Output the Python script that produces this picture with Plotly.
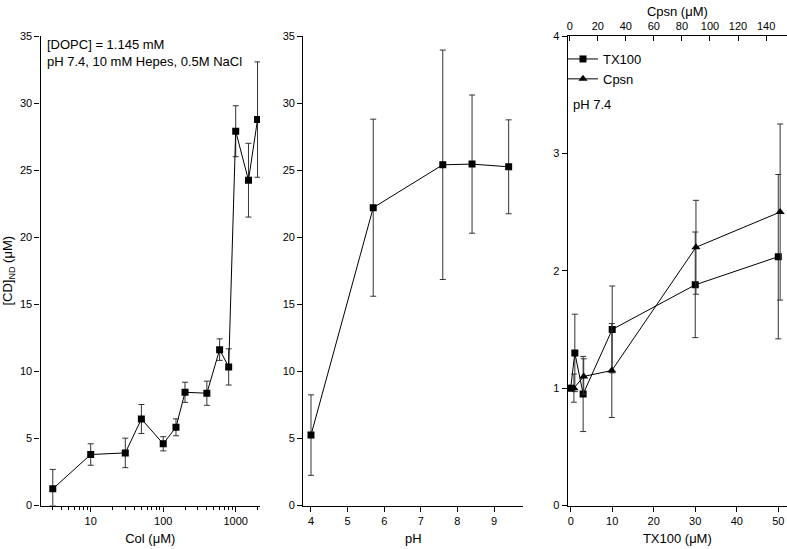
import plotly.graph_objects as go

# ---------------- data ----------------
col_conc = [3, 10, 30, 50, 100, 150, 200, 400, 600, 800, 1000, 1500, 2000]
col_cd = [1.24, 3.8, 3.92, 6.45, 4.6, 5.83, 8.44, 8.37, 11.62, 10.33, 27.9, 24.25, 28.77]
col_err = [1.45, 0.8, 1.1, 1.08, 0.53, 0.63, 0.75, 0.9, 0.8, 1.35, 1.9, 2.75, 4.3]

ph_vals = [4.0, 5.7, 7.6, 8.4, 9.4]
ph_cd = [5.25, 22.2, 25.4, 25.45, 25.25]
ph_err = [3.0, 6.6, 8.55, 5.15, 3.5]

tx_conc = [0, 1, 3, 10, 30, 50]
tx_rel = [1.0, 1.3, 0.95, 1.5, 1.88, 2.12]
tx_err = [0.0, 0.33, 0.32, 0.37, 0.45, 0.70]

cpsn_conc = [0, 3, 10, 30, 90, 150]
cpsn_rel = [1.0, 1.0, 1.1, 1.15, 2.2, 2.5]
cpsn_err = [0.0, 0.12, 0.15, 0.4, 0.4, 0.75]

FONT = "Liberation Sans, Arial, sans-serif"
W, H = 787, 549

def px_x(p):
    return p / W

def px_y(p):
    return 1 - p / H

ydom = [px_y(505.5), px_y(36)]
ebar = dict(type="data", thickness=1, width=3, color="#333333")
lmk = dict(color="black", width=1)

fig = go.Figure()

col_minus = [min(e, v) for e, v in zip(col_err, col_cd)]
fig.add_trace(go.Scatter(
    x=col_conc, y=col_cd, mode="lines+markers",
    line=lmk, marker=dict(symbol="square", size=7, color="black"),
    error_y=dict(array=col_err, arrayminus=col_minus, **ebar),
    xaxis="x", yaxis="y", showlegend=False))

fig.add_trace(go.Scatter(
    x=ph_vals, y=ph_cd, mode="lines+markers",
    line=lmk, marker=dict(symbol="square", size=7, color="black"),
    error_y=dict(array=ph_err, **ebar),
    xaxis="x2", yaxis="y2", showlegend=False))

fig.add_trace(go.Scatter(
    x=tx_conc, y=tx_rel, mode="lines+markers", name="TX100",
    line=lmk, marker=dict(symbol="square", size=7, color="black"),
    error_y=dict(array=tx_err, **ebar),
    xaxis="x3", yaxis="y3"))

fig.add_trace(go.Scatter(
    x=cpsn_conc, y=cpsn_rel, mode="lines+markers", name="Cpsn",
    line=lmk, marker=dict(symbol="triangle-up", size=8, color="black"),
    error_y=dict(array=cpsn_err, **ebar),
    xaxis="x4", yaxis="y3"))

axis_common = dict(showline=True, linecolor="black", linewidth=1.3,
                   ticks="outside", ticklen=5, tickwidth=1, tickcolor="black",
                   showgrid=False, zeroline=False, automargin=False,
                   tickfont=dict(family=FONT, size=11, color="black"),
                   title_font=dict(family=FONT, size=13, color="black"))

fig.update_layout(
    width=W, height=H,
    margin=dict(l=0, r=0, t=0, b=0),
    paper_bgcolor="white", plot_bgcolor="white",
    font=dict(family=FONT, size=12, color="black"),
    xaxis=dict(domain=[px_x(40.5), px_x(260)], type="log", range=[0.3076, 3.335],
               tickvals=[10, 100, 1000], ticktext=["10", "100", "1000"],
               minor=dict(ticks="outside", ticklen=3, tickcolor="black", dtick="D1", showgrid=False),
               title=dict(text="Col (μM)", standoff=8), anchor="y", **axis_common),
    yaxis=dict(domain=ydom, range=[0, 35], dtick=5, anchor="x",
               title=dict(text="[CD]<sub>ND</sub> (μM)", standoff=10), **axis_common),
    xaxis2=dict(domain=[px_x(303.3), px_x(523.3)], range=[3.79, 9.8], dtick=1,
                title=dict(text="pH", standoff=8), anchor="y2", **axis_common),
    yaxis2=dict(domain=ydom, range=[0, 35], dtick=5, anchor="x2", **axis_common),
    xaxis3=dict(domain=[px_x(567.7), 1.0], range=[-0.72, 52.1], dtick=10,
                title=dict(text="TX100 (μM)", standoff=8), anchor="y3", **axis_common),
    yaxis3=dict(domain=ydom, range=[0, 4], dtick=1, anchor="x3", **axis_common),
    xaxis4=dict(overlaying="x3", side="top", range=[-1.43, 154.9], dtick=20,
                anchor="y3", title=dict(text="Cpsn (μM)", standoff=0),
                **{**axis_common, "ticks": "inside"}),
    legend=dict(x=px_x(563), y=px_y(44), xanchor="left", yanchor="top",
                bgcolor="rgba(0,0,0,0)", borderwidth=0, tracegroupgap=0,
                font=dict(family=FONT, size=13, color="black")),
    annotations=[
        dict(text="[DOPC] = 1.145 mM", x=px_x(45), y=px_y(45), xref="paper", yref="paper",
             xanchor="left", yanchor="middle", showarrow=False,
             font=dict(family=FONT, size=13, color="black")),
        dict(text="pH 7.4, 10 mM Hepes, 0.5M NaCl", x=px_x(45), y=px_y(62), xref="paper", yref="paper",
             xanchor="left", yanchor="middle", showarrow=False,
             font=dict(family=FONT, size=13, color="black")),
        dict(text="pH 7.4", x=px_x(571), y=px_y(104), xref="paper", yref="paper",
             xanchor="left", yanchor="middle", showarrow=False,
             font=dict(family=FONT, size=13, color="black")),
    ],
)

fig.write_html("out.html", config={"displayModeBar": False},
               post_script="document.body.style.margin='0';document.body.style.overflow='hidden';")
